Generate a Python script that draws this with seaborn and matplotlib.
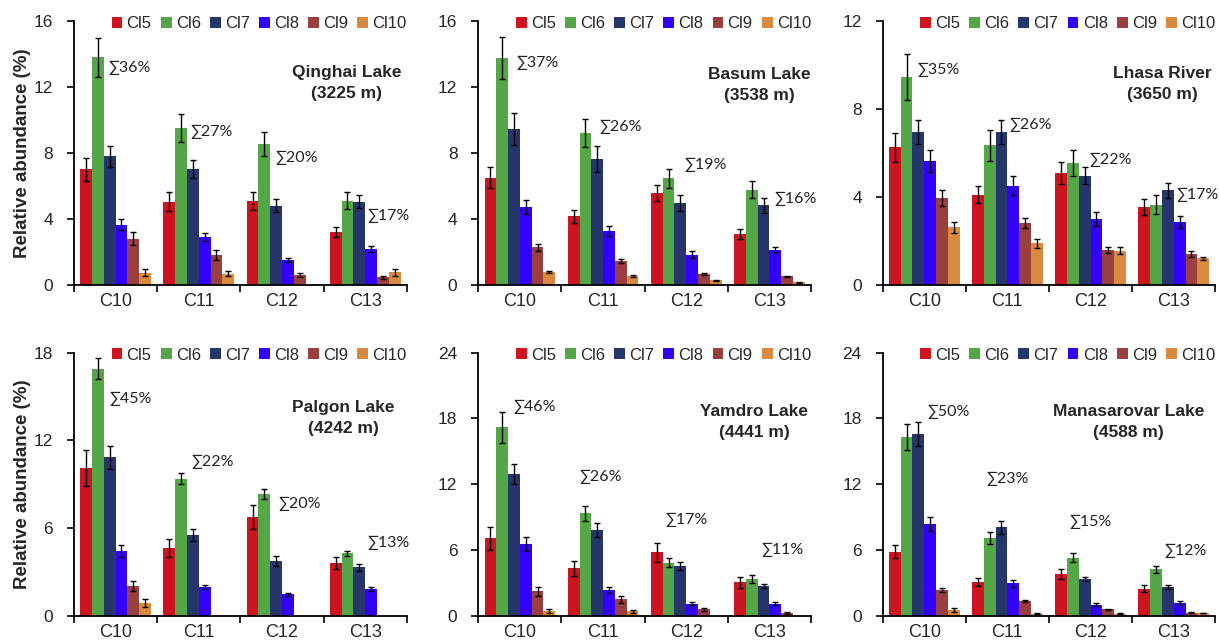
import matplotlib
matplotlib.use("Agg")
import matplotlib.pyplot as plt
import pandas as pd
import seaborn as sns

categories = ["C10", "C11", "C12", "C13"]
clusters = ["Cl5", "Cl6", "Cl7", "Cl8", "Cl9", "Cl10"]
palette = ["#CC1520", "#55A646", "#26366A", "#3300FF", "#9A3F3F", "#DA8A3E"]

sites = ["Qinghai Lake", "Basum Lake", "Lhasa River",
         "Palgon Lake", "Yamdro Lake", "Manasarovar Lake"]
elevations = ["3225 m", "3538 m", "3650 m", "4242 m", "4441 m", "4588 m"]
y_max = [16, 16, 12, 18, 24, 24]
y_step = [4, 4, 4, 6, 6, 6]

# rows: Cl5..Cl10, columns: C10..C13 (0 = not detected)
qinghai_mean = [[7.0, 5.05, 5.1, 3.2],
                [13.8, 9.5, 8.55, 5.1],
                [7.8, 7.0, 4.8, 5.05],
                [3.65, 2.9, 1.5, 2.15],
                [2.8, 1.8, 0.6, 0.45],
                [0.73, 0.65, 0.0, 0.75]]
qinghai_err = [[0.7, 0.55, 0.55, 0.3],
               [1.2, 0.85, 0.75, 0.5],
               [0.65, 0.55, 0.4, 0.4],
               [0.33, 0.25, 0.1, 0.18],
               [0.4, 0.3, 0.12, 0.08],
               [0.2, 0.15, 0.0, 0.2]]

basum_mean = [[6.5, 4.15, 5.57, 3.1],
              [13.77, 9.2, 6.46, 5.77],
              [9.45, 7.63, 4.96, 4.82],
              [4.72, 3.24, 1.82, 2.13],
              [2.27, 1.42, 0.65, 0.5],
              [0.77, 0.5, 0.26, 0.15]]
basum_err = [[0.62, 0.4, 0.5, 0.3],
             [1.25, 0.85, 0.57, 0.5],
             [0.95, 0.8, 0.5, 0.45],
             [0.45, 0.3, 0.2, 0.17],
             [0.2, 0.12, 0.07, 0.04],
             [0.06, 0.06, 0.04, 0.02]]

lhasa_mean = [[6.26, 4.1, 5.08, 3.53],
              [9.45, 6.34, 5.53, 3.65],
              [6.97, 6.95, 4.97, 4.29],
              [5.62, 4.51, 2.99, 2.86],
              [3.94, 2.8, 1.57, 1.4],
              [2.61, 1.88, 1.55, 1.2]]
lhasa_err = [[0.65, 0.4, 0.5, 0.35],
             [1.05, 0.7, 0.6, 0.42],
             [0.55, 0.55, 0.38, 0.35],
             [0.5, 0.42, 0.3, 0.27],
             [0.35, 0.22, 0.13, 0.13],
             [0.25, 0.2, 0.15, 0.08]]

palgon_mean = [[10.1, 4.65, 6.77, 3.64],
               [16.9, 9.38, 8.35, 4.28],
               [10.85, 5.54, 3.78, 3.32],
               [4.44, 1.99, 1.49, 1.83],
               [2.04, 0.0, 0.0, 0.0],
               [0.89, 0.0, 0.0, 0.0]]
palgon_err = [[1.25, 0.6, 0.8, 0.42],
              [0.7, 0.38, 0.33, 0.18],
              [0.8, 0.4, 0.33, 0.22],
              [0.4, 0.15, 0.09, 0.15],
              [0.35, 0.0, 0.0, 0.0],
              [0.26, 0.0, 0.0, 0.0]]

yamdro_mean = [[7.07, 4.33, 5.79, 3.08],
               [17.2, 9.36, 4.85, 3.35],
               [12.96, 7.83, 4.54, 2.77],
               [6.55, 2.35, 1.13, 1.13],
               [2.26, 1.52, 0.6, 0.27],
               [0.46, 0.43, 0.0, 0.0]]
yamdro_err = [[1.07, 0.7, 0.85, 0.5],
              [1.4, 0.67, 0.42, 0.38],
              [0.93, 0.6, 0.35, 0.18],
              [0.65, 0.25, 0.12, 0.1],
              [0.4, 0.3, 0.15, 0.05],
              [0.2, 0.15, 0.0, 0.0]]

manasarovar_mean = [[5.87, 3.12, 3.85, 2.5],
                    [16.33, 7.1, 5.32, 4.25],
                    [16.57, 8.07, 3.39, 2.66],
                    [8.38, 2.97, 1.04, 1.19],
                    [2.35, 1.35, 0.61, 0.3],
                    [0.52, 0.2, 0.2, 0.27]]
manasarovar_err = [[0.6, 0.35, 0.45, 0.35],
                   [1.2, 0.55, 0.38, 0.3],
                   [1.1, 0.6, 0.2, 0.18],
                   [0.6, 0.3, 0.15, 0.15],
                   [0.2, 0.1, 0.06, 0.04],
                   [0.2, 0.05, 0.05, 0.04]]

means = [qinghai_mean, basum_mean, lhasa_mean, palgon_mean, yamdro_mean, manasarovar_mean]
errs = [qinghai_err, basum_err, lhasa_err, palgon_err, yamdro_err, manasarovar_err]

# summed abundance labels per site
sum_labels = [["36%", "27%", "20%", "17%"],
              ["37%", "26%", "19%", "16%"],
              ["35%", "26%", "22%", "17%"],
              ["45%", "22%", "20%", "13%"],
              ["46%", "26%", "17%", "11%"],
              ["50%", "23%", "15%", "12%"]]

# label placement (x in category units, y in data units)
sum_x = [[-0.09, 0.9, 1.92, 3.03],
         [-0.04, 0.96, 1.98, 3.06],
         [-0.08, 1.03, 1.99, 3.03],
         [-0.08, 0.91, 1.96, 3.03],
         [-0.08, 0.72, 1.75, 2.9],
         [0.04, 0.75, 1.75, 2.89]]
sum_y = [[13.15, 9.27, 7.7, 4.18],
         [13.45, 9.6, 7.3, 5.2],
         [9.8, 7.27, 5.68, 4.09],
         [14.8, 10.5, 7.67, 5.0],
         [19.07, 12.7, 8.76, 6.0],
         [18.6, 12.5, 8.6, 5.9]]
title_x = [0.82, 0.845, 0.84, 0.81, 0.83, 0.74]
title_y = [0.765, 0.757, 0.76, 0.75, 0.738, 0.735]

sns.set_style("ticks")
plt.rcParams["font.family"] = ["Liberation Sans", "DejaVu Sans"]

fig, axes = plt.subplots(2, 3, figsize=(12.19, 6.44), dpi=100)
fig.subplots_adjust(left=0.0607, right=0.997, top=0.967, bottom=0.0435,
                    wspace=0.215, hspace=0.258)

for k, ax in enumerate(axes.flat):
    rows = []
    for i, cl in enumerate(clusters):
        for j, cat in enumerate(categories):
            rows.append({"category": cat, "cluster": cl, "value": means[k][i][j]})
    df = pd.DataFrame(rows)

    sns.barplot(data=df, x="category", y="value", hue="cluster",
                order=categories, hue_order=clusters, palette=palette,
                saturation=1, width=0.85, errorbar=None, ax=ax, linewidth=0)

    # error bars on each bar
    bar_groups = list(ax.containers)
    for i, cont in enumerate(bar_groups):
        for j, bar in enumerate(cont):
            v = means[k][i][j]
            if v > 0:
                ax.errorbar(bar.get_x() + bar.get_width() / 2, v,
                            yerr=errs[k][i][j], fmt="none", ecolor="black",
                            elinewidth=1, capsize=2.5, capthick=1)

    handles, labels = ax.get_legend_handles_labels()
    ax.legend(handles[:6], labels[:6], ncol=6, loc="center right",
              bbox_to_anchor=(1.0, 0.99), frameon=False, fontsize=12,
              handlelength=0.65, handleheight=0.65, handletextpad=0.25,
              columnspacing=0.55, borderaxespad=0, borderpad=0)

    ax.set_ylim(0, y_max[k])
    ax.set_yticks(range(0, y_max[k] + 1, y_step[k]))
    ax.set_xlim(-0.5, 3.5)
    ax.set_xticks(range(4))
    ax.set_xticklabels(categories)
    ax.set_xticks([-0.5, 0.5, 1.5, 2.5, 3.5], minor=True)
    ax.tick_params(axis="x", which="major", length=0, labelsize=13, pad=6)
    ax.tick_params(axis="x", which="minor", length=5, width=1.2, color="black")
    ax.tick_params(axis="y", length=5, width=1.2, color="black",
                   labelsize=12.5, pad=10)
    ax.set_xlabel("")
    for s in ["top", "right"]:
        ax.spines[s].set_visible(False)
    for s in ["left", "bottom"]:
        ax.spines[s].set_linewidth(1.3)
        ax.spines[s].set_color("black")

    if k % 3 == 0:
        ax.set_ylabel("Relative abundance (%)", fontsize=13.5,
                      fontweight="bold", labelpad=2)
    else:
        ax.set_ylabel("")

    ax.text(title_x[k], title_y[k], f"{sites[k]}\n({elevations[k]})",
            transform=ax.transAxes, ha="center", va="center",
            fontsize=12.5, fontweight="bold", linespacing=1.5)

    for j in range(4):
        ax.text(sum_x[k][j], sum_y[k][j], "\u2211" + sum_labels[k][j],
                ha="left", va="center", fontsize=11.5, color="#222222",
                family=["Lato", "DejaVu Sans"])

fig.savefig("out.png", dpi=100)
